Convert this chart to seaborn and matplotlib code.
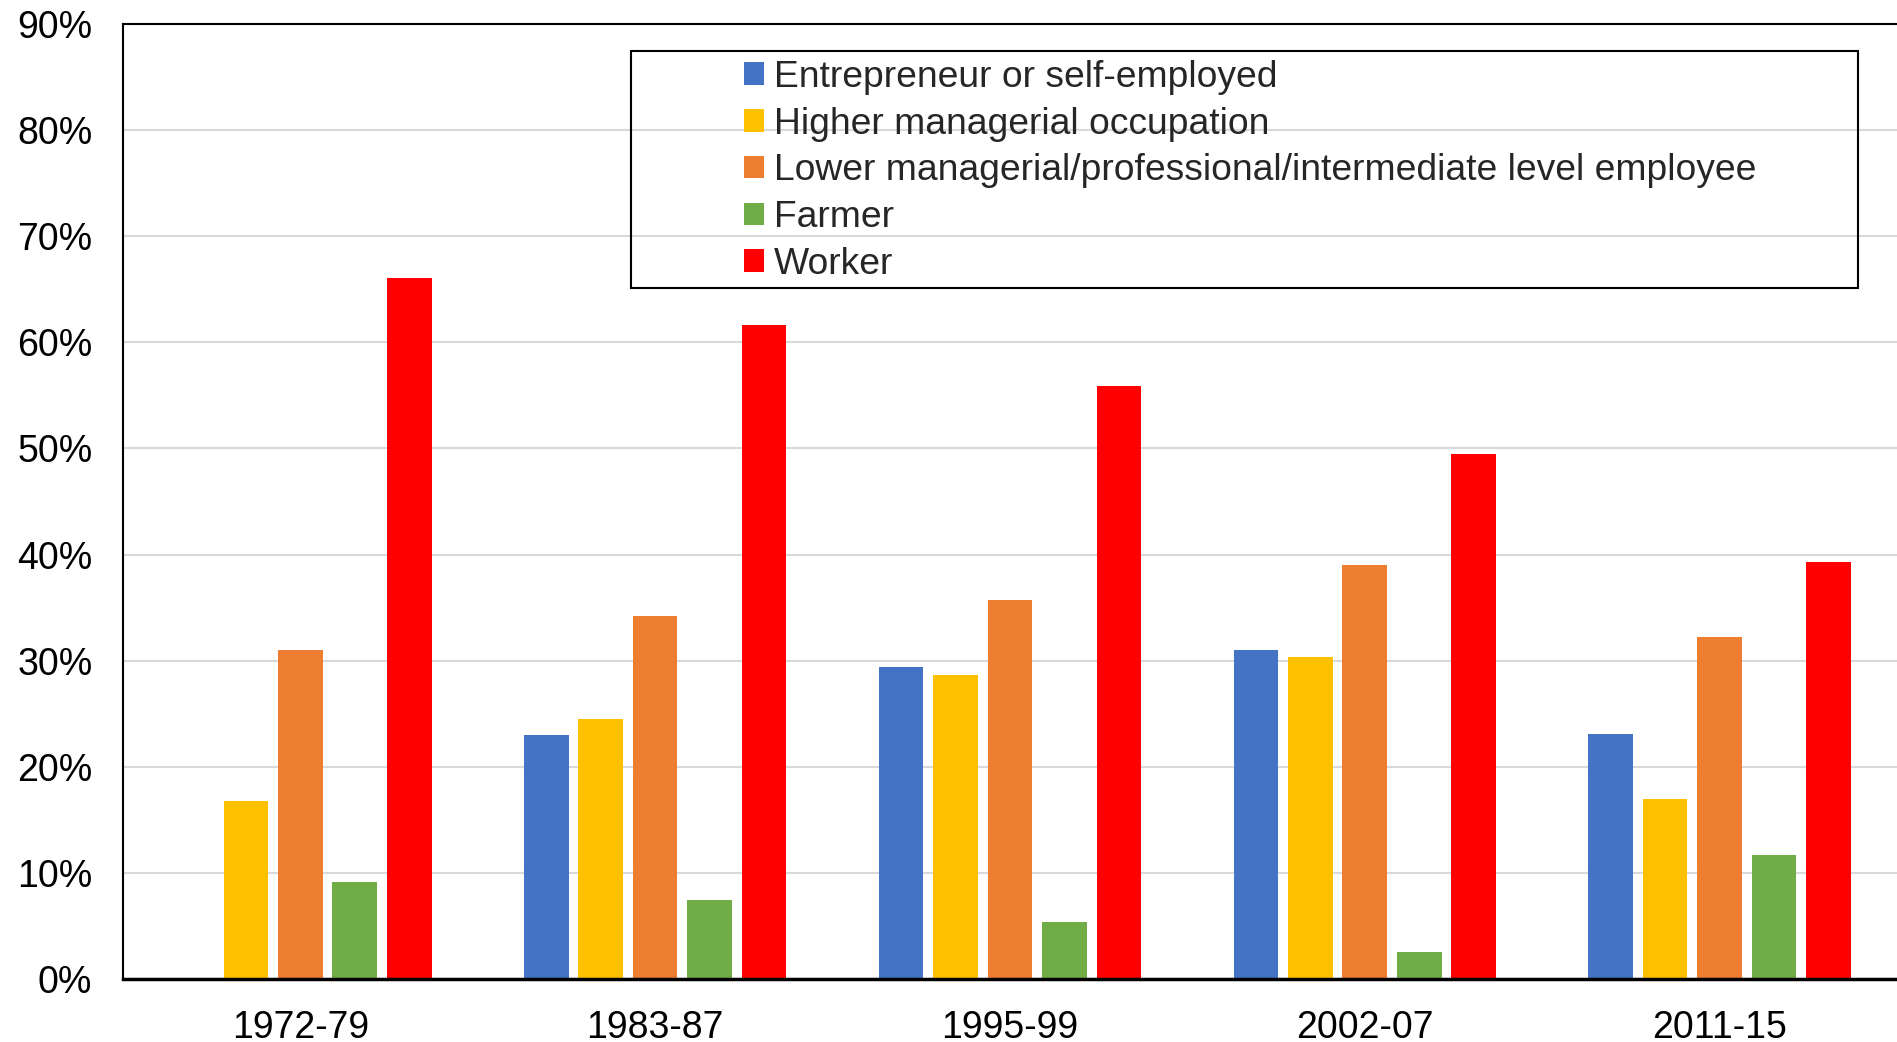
import pandas as pd
import numpy as np
import seaborn as sns
import matplotlib.pyplot as plt
from matplotlib.patches import Rectangle

periods = ["1972-79", "1983-87", "1995-99", "2002-07", "2011-15"]
groups = ["Entrepreneur or self-employed", "Higher managerial occupation",
          "Lower managerial/professional/intermediate level employee", "Farmer", "Worker"]
entrepreneur = [np.nan, 0.230, 0.294, 0.310, 0.231]
higher_man = [0.168, 0.245, 0.286, 0.303, 0.170]
lower_man = [0.310, 0.342, 0.357, 0.390, 0.322]
farmer = [0.091, 0.074, 0.054, 0.025, 0.117]
worker = [0.661, 0.616, 0.559, 0.495, 0.393]
colors = ["#4472C4", "#FFC000", "#ED7D31", "#70AD47", "#FF0000"]

rows = []
for g, vals in zip(groups, [entrepreneur, higher_man, lower_man, farmer, worker]):
    for p, v in zip(periods, vals):
        rows.append({"period": p, "group": g, "share": v})
df = pd.DataFrame(rows)

sns.set_style("white")
plt.rcParams['font.family'] = ['Liberation Sans', 'DejaVu Sans']

fig = plt.figure(figsize=(18.97, 10.42), dpi=100)
ax = fig.add_axes([0.0648, 0.0605, 0.9352, 0.9165])
sns.barplot(data=df, x="period", y="share", hue="group", hue_order=groups,
            palette=colors, saturation=1, width=0.767, gap=0.18, linewidth=0,
            ax=ax, errorbar=None)

ax.set_xlim(-0.5, 4.5)
ax.set_ylim(0, 0.9)
ax.set_yticks(np.arange(0, 0.91, 0.1))
ax.set_yticklabels([f"{int(round(t*100))}%" for t in np.arange(0, 0.91, 0.1)])
ax.yaxis.grid(True, color="#d9d9d9", linewidth=1.5)
ax.set_axisbelow(True)
ax.set_xlabel("")
ax.set_ylabel("")
ax.tick_params(axis="both", length=0, labelsize=27, colors="black")
ax.tick_params(axis="y", pad=22)
ax.tick_params(axis="x", pad=22)
for s in ["left", "top"]:
    ax.spines[s].set_color("black")
    ax.spines[s].set_linewidth(1.5)
ax.spines["bottom"].set_color("black")
ax.spines["bottom"].set_linewidth(2.5)
ax.spines["right"].set_visible(False)

# legend box is wider than its entries in the original, so draw it separately
ax.add_patch(Rectangle((0.2864, 0.7236), 0.6916, 0.2481, transform=ax.transAxes,
                       fill=False, edgecolor="black", linewidth=1.5, zorder=5))
leg = ax.legend(loc="upper left", bbox_to_anchor=(0.350, 0.9625), frameon=False,
                fontsize=26.8, handlelength=0.55, handleheight=0.55, handletextpad=0.25,
                labelspacing=0.315, borderpad=0, borderaxespad=0)

fig.savefig("out.png", dpi=100)
